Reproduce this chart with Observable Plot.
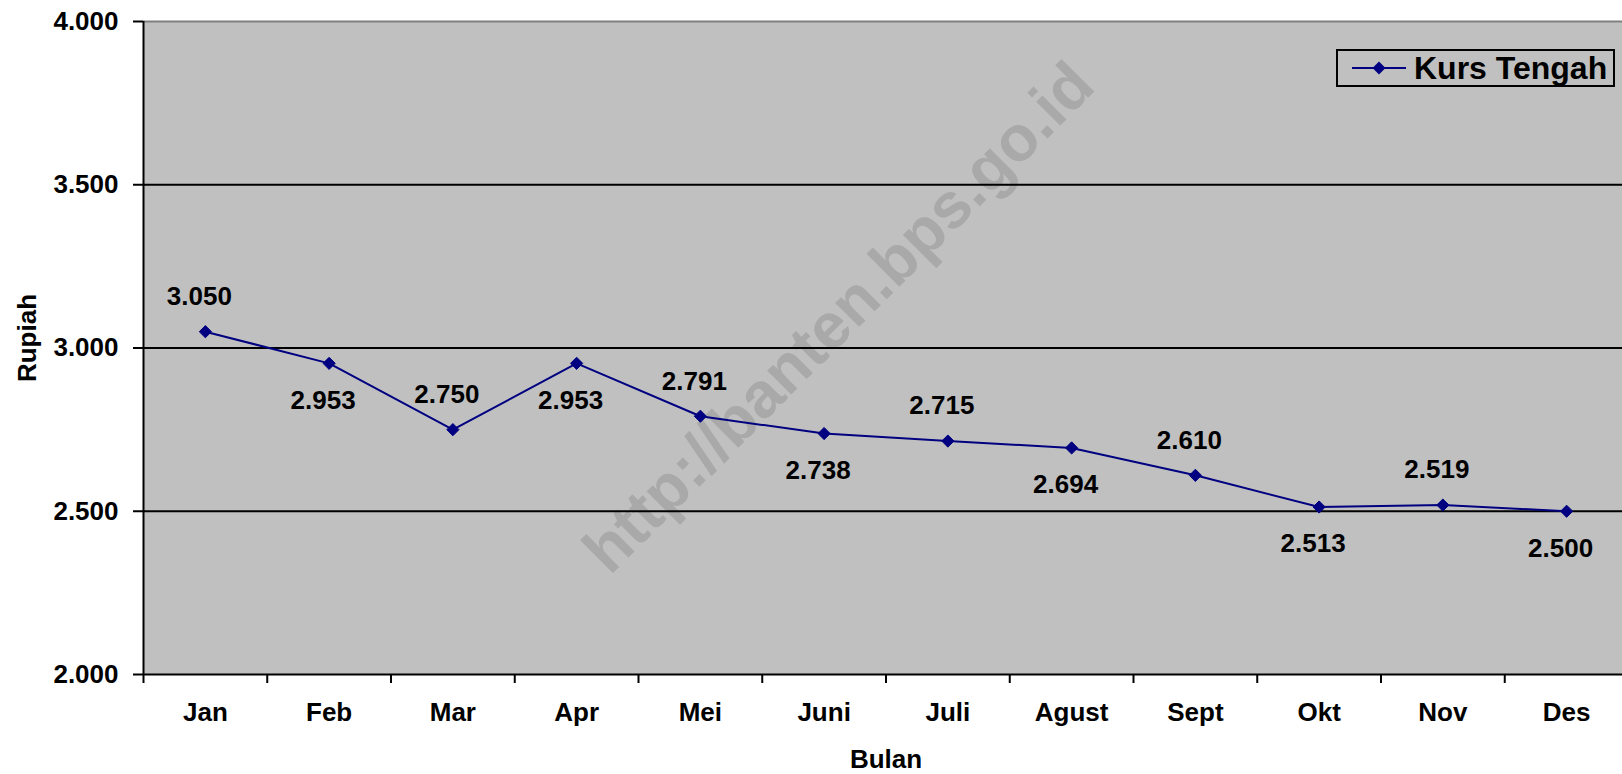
<!DOCTYPE html>
<html>
<head>
<meta charset="utf-8">
<script src="https://cdn.jsdelivr.net/npm/d3@7"></script>
<script src="https://cdn.jsdelivr.net/npm/@observablehq/plot@0.6"></script>
<style>
  html, body { margin: 0; padding: 0; background: #fff; overflow: hidden; }
  #wrap { position: relative; width: 1622px; height: 774px; }
  #wrap svg { display: block; }
  #legend {
    position: absolute; left: 1336px; top: 49px; width: 275px; height: 34px;
    border: 2px solid #000; box-sizing: content-box;
    font-family: "Liberation Sans", Arial, sans-serif; font-weight: bold; font-size: 32px;
    display: flex; align-items: center; color: #000; white-space: nowrap;
  }
  #legend svg { margin-left: 14px; margin-right: 6px; flex: none; }
</style>
</head>
<body>
<div id="wrap"></div>
<script>
const months = ["Jan","Feb","Mar","Apr","Mei","Juni","Juli","Agust","Sept","Okt","Nov","Des"];
const kurs = [3050, 2953, 2750, 2953, 2791, 2738, 2715, 2694, 2610, 2513, 2519, 2500];
const labelSide = ["above","below","above","below","above","below","above","below","above","below","above","below"];
const yTicks = [2000, 2500, 3000, 3500, 4000];
const gridValues = [2500, 3000, 3500];
const seriesName = "Kurs Tengah";
const xTitle = "Bulan";
const yTitle = "Rupiah";
const watermark = "http://banten.bps.go.id";

const data = months.map((m, i) => ({month: m, x: i + 0.5, value: kurs[i], side: labelSide[i]}));
const idFormat = d3.formatLocale({decimal: ",", thousands: ".", grouping: [3], currency: ["", ""]}).format(",");
const bandEdges = d3.range(months.length + 1);
const bandCenters = months.map((m, i) => i + 0.5);

const navy = "#000080";

const chart = Plot.plot({
  width: 1622,
  height: 774,
  marginLeft: 143,
  marginRight: -6,
  marginTop: 21,
  marginBottom: 100,
  style: {fontFamily: "'Liberation Sans', Arial, sans-serif", fontSize: "26px", fontWeight: "bold", color: "#000", background: "#fff", overflow: "hidden"},
  x: {type: "linear", domain: [0, months.length], axis: null},
  y: {domain: [2000, 4000], axis: null},
  marks: [
    Plot.frame({fill: "#c0c0c0", stroke: null}),
    Plot.text([watermark], {text: d => d, frameAnchor: "middle", textAnchor: "middle", lineAnchor: "middle", dx: -47, dy: -30, rotate: -45, fill: "#a9a9a9", fontSize: 64, fontWeight: "bold"}),
    Plot.ruleY(gridValues, {stroke: "#000", strokeWidth: 2}),
    Plot.ruleY([4000], {stroke: "#808080", strokeWidth: 2}),
    Plot.ruleY([2000], {stroke: "#000", strokeWidth: 2}),
    Plot.ruleX([0], {stroke: "#000", strokeWidth: 2}),
    Plot.axisY(yTicks, {tickSize: 10, tickPadding: 15, tickFormat: idFormat, strokeWidth: 2, label: null}),
    Plot.axisX(bandEdges, {tickSize: 9, tickPadding: 0, tickFormat: () => "", strokeWidth: 2, label: null}),
    Plot.axisX(bandCenters, {tickSize: 0, tickPadding: 28, tickFormat: d => months[Math.round(d - 0.5)], label: null}),
    Plot.line(data, {x: "x", y: "value", stroke: navy, strokeWidth: 2}),
    Plot.dot(data, {x: "x", y: "value", symbol: "diamond2", r: 5.5, fill: navy, stroke: navy, strokeWidth: 1}),
    Plot.text(data.filter(d => d.side === "above"), {x: "x", y: "value", text: d => idFormat(d.value), dx: -6, dy: -35, fill: "#000"}),
    Plot.text(data.filter(d => d.side === "below"), {x: "x", y: "value", text: d => idFormat(d.value), dx: -6, dy: 37, fill: "#000"}),
    Plot.text([yTitle], {text: d => d, frameAnchor: "left", textAnchor: "middle", lineAnchor: "middle", dx: -116, dy: -10, rotate: -90, fill: "#000"}),
    Plot.text([xTitle], {text: d => d, frameAnchor: "bottom", textAnchor: "middle", lineAnchor: "middle", dy: 85, fill: "#000"})
  ]
});

const wrap = document.getElementById("wrap");
wrap.appendChild(chart);

const legend = document.createElement("div");
legend.id = "legend";
legend.innerHTML = `<svg width="56" height="20" viewBox="0 0 56 20">
  <line x1="0" y1="10" x2="54" y2="10" stroke="${navy}" stroke-width="2"/>
  <path d="M27 3.5 L33.5 10 L27 16.5 L20.5 10 Z" fill="${navy}"/>
</svg><span></span>`;
legend.querySelector("span").textContent = seriesName;
wrap.appendChild(legend);
</script>
</body>
</html>
